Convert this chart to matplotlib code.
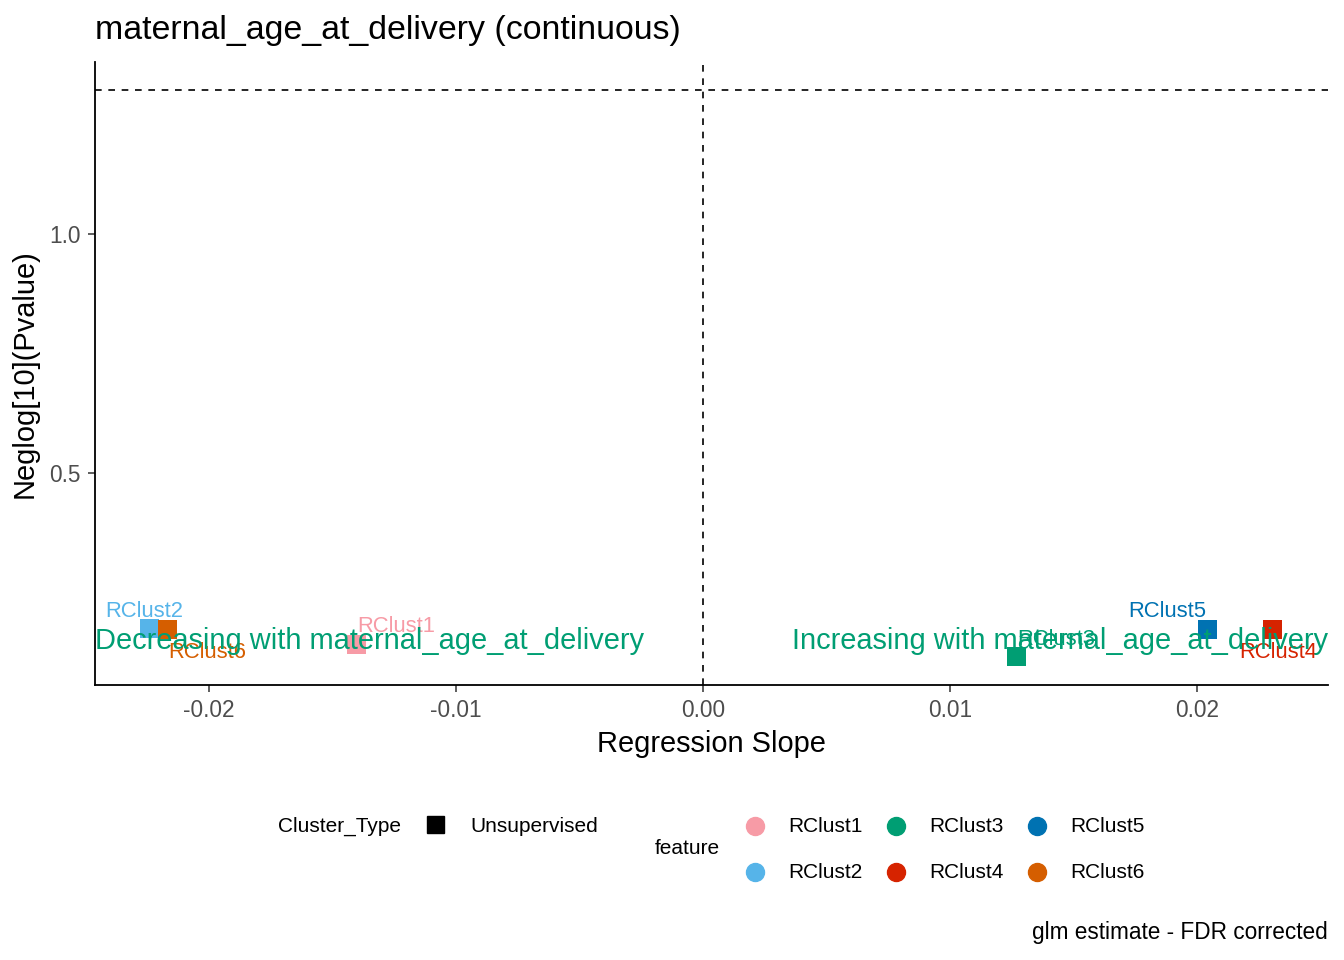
import matplotlib
matplotlib.use("Agg")
import matplotlib.pyplot as plt

plt.rcParams['font.family'] = ['Liberation Sans', 'DejaVu Sans']

features = ["RClust1", "RClust2", "RClust3", "RClust4", "RClust5", "RClust6"]
slopes = [-0.01405, -0.02243, 0.01267, 0.02304, 0.02040, -0.02170]
neglogp = [0.143, 0.175, 0.117, 0.174, 0.174, 0.174]
colors = ["#F79BA6", "#56B4E9", "#009E73", "#D62300", "#0072B2", "#D55E00"]
# label offsets in pixels (dx, dy screen-down)
label_offsets = {"RClust1": (40, -17), "RClust2": (-5, -17), "RClust3": (40, -17),
                 "RClust4": (6, 24), "RClust5": (-40, -17), "RClust6": (40, 24)}
sig_line = 1.30103
title = "maternal_age_at_delivery (continuous)"
xlabel = "Regression Slope"
ylabel = "Neglog[10](Pvalue)"
caption = "glm estimate - FDR corrected"
dec_text = "Decreasing with maternal_age_at_delivery"
inc_text = "Increasing with maternal_age_at_delivery"
annot_y = 0.149
xticks = [-0.02, -0.01, 0.00, 0.01, 0.02]
xticklabels = ["-0.02", "-0.01", "0.00", "0.01", "0.02"]
yticks = [0.5, 1.0]
yticklabels = ["0.5", "1.0"]

W, H = 1344, 960
dpi = 100
fig = plt.figure(figsize=(W / dpi, H / dpi), dpi=dpi)
ax = fig.add_axes([95 / W, 1 - 685 / H, (1328 - 95) / W, (685 - 62) / H])

ax.set_xlim(-0.02462, 0.0253)
ax.set_ylim(0.0565, 1.36)

ax.axhline(sig_line, color="black", ls=(0, (4, 4)), lw=1.2, zorder=1)
ax.axvline(0, color="black", ls=(0, (4, 4)), lw=1.2, zorder=1)

px2pt = 72 / dpi
for f, x, y, c in zip(features, slopes, neglogp, colors):
    ax.scatter([x], [y], marker="s", s=(19 * px2pt) ** 2, color=c, linewidths=0, zorder=3)

for f, x, y, c in zip(features, slopes, neglogp, colors):
    dx, dy = label_offsets[f]
    ax.annotate(f, (x, y), xytext=(dx * px2pt, -dy * px2pt), textcoords="offset points",
                ha="center", va="center", fontsize=15.8, color=c, zorder=4)

ax.text(0, annot_y, dec_text, transform=ax.get_yaxis_transform(), ha="left", va="center",
        fontsize=20.9, color="#009E73", zorder=5)
ax.text(1, annot_y, inc_text, transform=ax.get_yaxis_transform(), ha="right", va="center",
        fontsize=20.9, color="#009E73", zorder=5)

for s in ["top", "right"]:
    ax.spines[s].set_visible(False)
for s in ["left", "bottom"]:
    ax.spines[s].set_linewidth(1.3)
ax.set_xticks(xticks)
ax.set_xticklabels(xticklabels)
ax.set_yticks(yticks)
ax.set_yticklabels(yticklabels)
ax.tick_params(axis="both", labelsize=16.3, labelcolor="#4D4D4D", color="#333333",
               length=5, width=1.1, pad=5)
ax.tick_params(axis="x", pad=5)
ax.set_xlabel(xlabel, fontsize=20.9, labelpad=6)
ax.set_ylabel(ylabel, fontsize=20.9, labelpad=8)
fig.text(95 / W, 1 - 31 / H, title, fontsize=24.4, ha="left", va="center")
fig.text(1328 / W, 1 - 933 / H, caption, fontsize=16.3, ha="right", va="center")

# legend drawn in a pixel-coordinate overlay
lax = fig.add_axes([0, 0, 1, 1])
lax.set_xlim(0, W)
lax.set_ylim(H, 0)
lax.axis("off")
lax.text(278, 826, "Cluster_Type", fontsize=15, ha="left", va="center")
lax.plot([435], [824], marker="s", ms=17 * px2pt, color="black", ls="none")
lax.text(470, 826, "Unsupervised", fontsize=15, ha="left", va="center")
lax.text(655, 849, "feature", fontsize=15, ha="left", va="center")
leg_x = [755, 755, 896, 896, 1037, 1037]
leg_y = [826, 872, 826, 872, 826, 872]
for f, c, lx, ly in zip(features, colors, leg_x, leg_y):
    lax.plot([lx], [ly], marker="o", ms=18 * px2pt, color=c, ls="none")
    lax.text(lx + 33, ly, f, fontsize=15, ha="left", va="center")

fig.savefig("out.png", dpi=dpi)
